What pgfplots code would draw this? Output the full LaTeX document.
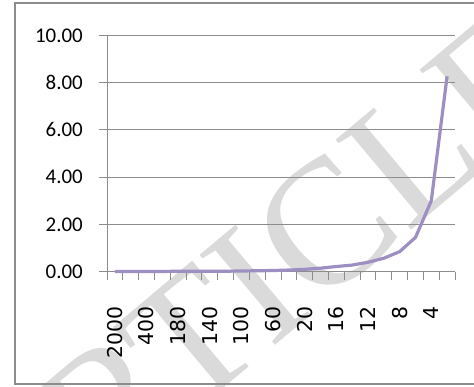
\documentclass[border=0pt]{standalone}
\usepackage{pgfplots}
\pgfplotsset{compat=1.18}
\usepackage{fontspec}
\setmainfont{Carlito}
\newfontfamily\dejavu{DejaVu Sans}
\newfontfamily\wmfont{Liberation Serif}
\definecolor{lav}{RGB}{158,143,194}
\definecolor{gridc}{RGB}{140,140,140}
\definecolor{wm}{RGB}{218,218,218}
\begin{document}
\begin{tikzpicture}[x=1bp,y=1bp]
\path[use as bounding box] (0,0) rectangle (474,386);
\node[rotate=40, text=wm, font=\wmfont\fontsize{180}{180}\selectfont, inner sep=0pt] at (252,98) {ARTICLE};
\draw[gridc, line width=1.2bp] (15,2) rectangle (490,383);
\begin{axis}[
  at={(107bp,114.3bp)}, anchor=south west,
  scale only axis, width=348bp, height=236.3bp,
  xmin=-0.5, xmax=21.5, ymin=0, ymax=10,
  axis x line=bottom, axis y line=left,
  axis line style={-, gridc, line width=0.9bp},
  tick align=outside,
  major tick length=8bp,
  tick style={gridc, line width=0.9bp},
  ytick={0,2,4,6,8,10},
  yticklabels={0.00,2.00,4.00,6.00,8.00,10.00},
  yticklabel style={font=\fontsize{21}{21}\selectfont, inner sep=0pt, xshift=-16bp},
  ymajorgrids,
  grid style={gridc, line width=0.9bp},
  xtick={-0.5,0.5,...,21.5},
  x tick label as interval,
  xticklabels={2000,,400,,180,,140,,100,,60,,20,,16,,12,,8,,4,},
  xticklabel shift=27bp,
  xticklabel style={rotate=90, anchor=east, font=\dejavu\fontsize{20.5}{20.5}\selectfont, inner sep=0pt},
  clip=false,
]
\addplot[lav, line width=3.2bp, line join=round] coordinates {
(0,0.01) (1,0.01) (2,0.01) (3,0.01) (4,0.02) (5,0.02) (6,0.02) (7,0.02)
(8,0.03) (9,0.04) (10,0.05) (11,0.07) (12,0.10) (13,0.15) (14,0.22)
(15,0.28) (16,0.40) (17,0.57) (18,0.85) (19,1.45) (20,3.00) (21,8.27)
};
\end{axis}
\end{tikzpicture}
\end{document}
